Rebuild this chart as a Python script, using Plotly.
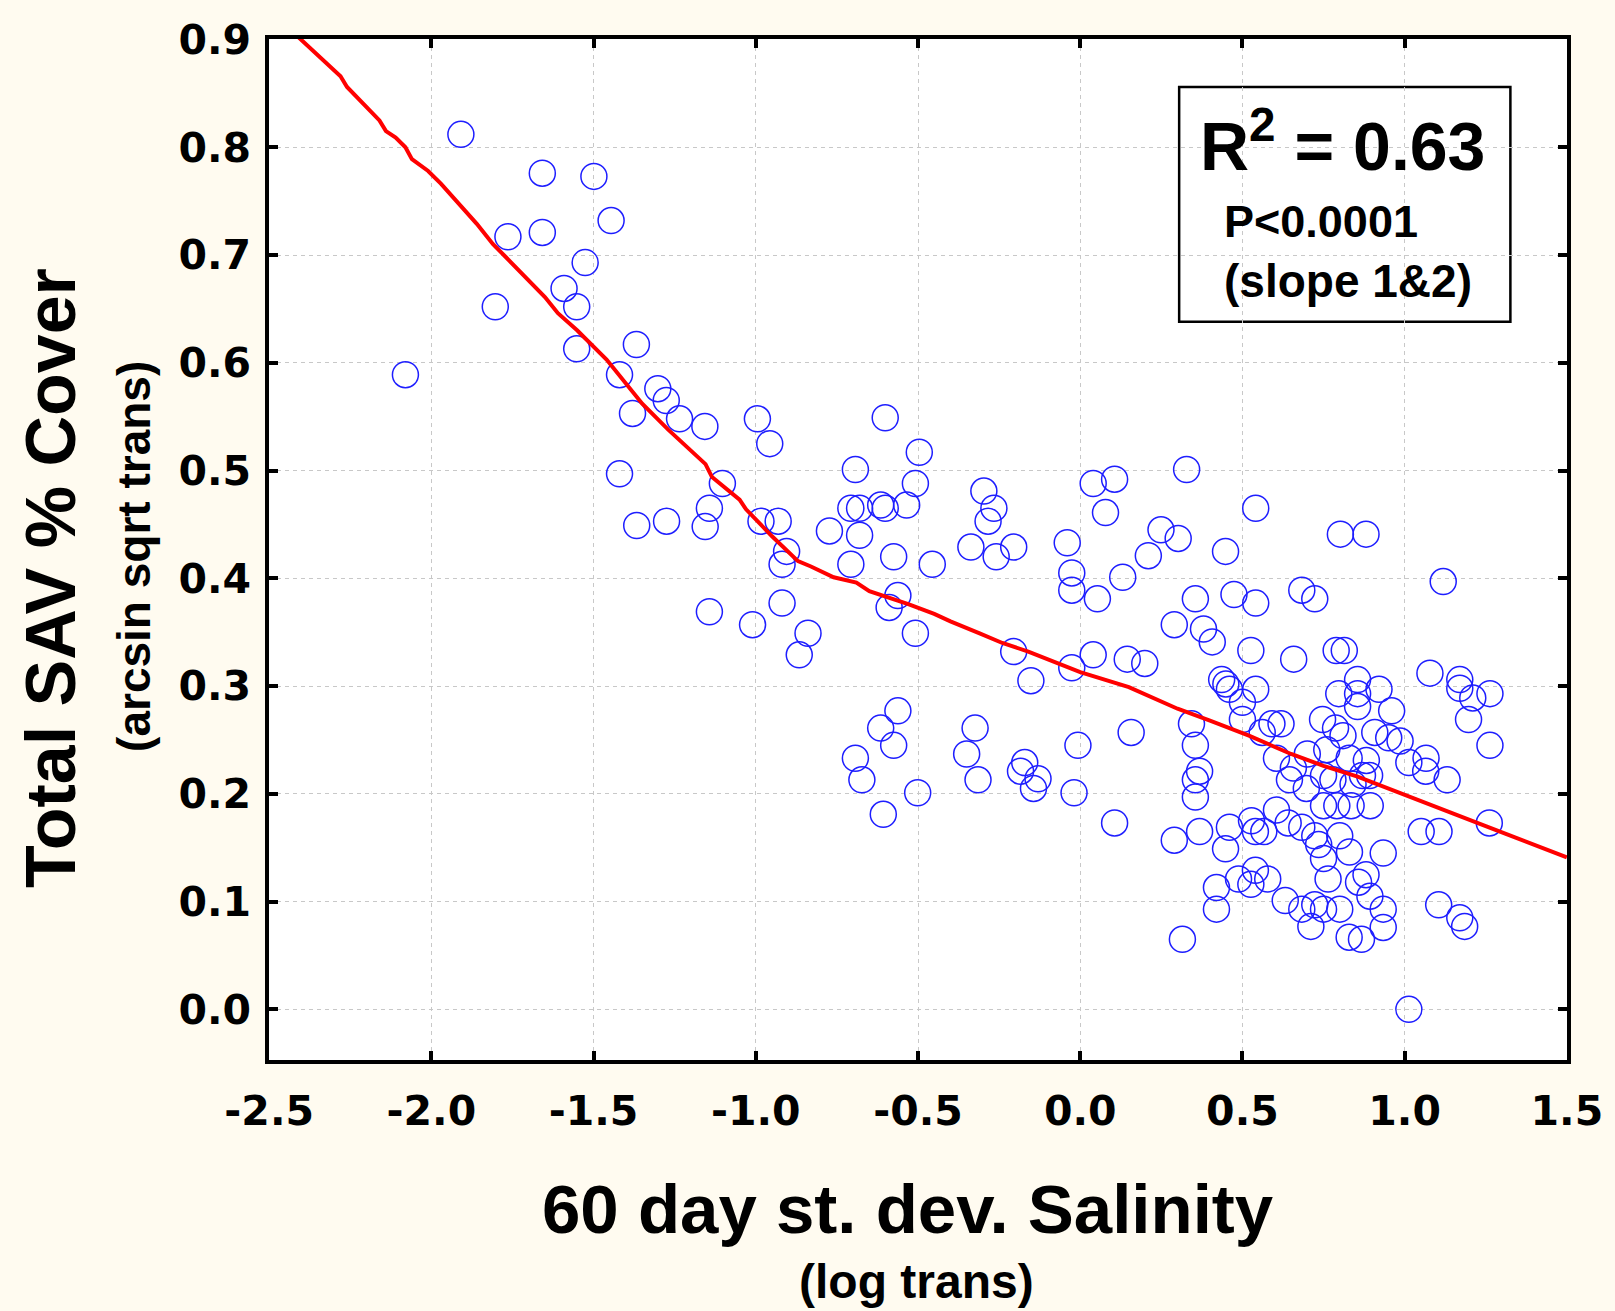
import plotly.graph_objects as go

# ---- data ----
salinity_x = [
    -2.08, -1.909, -1.803, -1.764, -1.658, -1.658, -1.591, -1.552, -1.552, -1.526,
    -1.499, -1.446, -1.42, -1.42, -1.368, -1.38, -1.367, -1.302, -1.276, -1.275,
    -1.235, -1.157, -1.156, -1.143, -1.143, -1.103, -1.01, -0.995, -0.957, -0.984,
    -0.931, -0.905, -0.919, -0.919, -0.839, -0.866, -0.773, -0.693, -0.707, -0.68,
    -0.68, -0.707, -0.601, -0.615, -0.601, -0.535, -0.575, -0.562, -0.589, -0.496,
    -0.508, -0.456, -0.508, -0.562, -0.615, -0.575, -0.693, -0.673, -0.607, -0.501,
    -0.297, -0.266, -0.284, -0.337, -0.259, -0.205, -0.205, -0.152, -0.324, -0.35,
    -0.315, -0.171, -0.184, -0.13, -0.144, -0.04, -0.026, -0.026, -0.026, -0.007,
    -0.019, 0.04, 0.106, 0.078, 0.053, 0.04, 0.131, 0.145, 0.199, 0.157,
    0.106, 0.249, 0.21, 0.302, 0.29, 0.328, 0.343, 0.29, 0.315, 0.355,
    0.38, 0.407, 0.448, 0.474, 0.541, 0.541, 0.526, 0.436, 0.449, 0.46,
    0.541, 0.50, 0.50, 0.355, 0.368, 0.355, 0.355, 0.368, 0.448, 0.46,
    0.42, 0.42, 0.488, 0.526, 0.528, 0.54, 0.54, 0.566, 0.578, 0.561,
    0.591, 0.619, 0.605, 0.657, 0.645, 0.70, 0.697, 0.605, 0.641, 0.683,
    0.632, 0.683, 0.723, 0.711, 0.658, 0.683, 0.723, 0.802, 0.881, 0.789,
    0.814, 0.747, 0.787, 0.81, 0.76, 0.797, 0.855, 0.855, 0.855, 0.921,
    0.96, 0.908, 0.951, 0.986, 0.829, 0.882, 0.892, 0.87, 0.841, 0.779,
    0.75, 0.75, 0.791, 0.835, 0.894, 0.723, 0.735, 0.75, 0.80, 0.83,
    0.934, 0.764, 0.881, 0.858, 0.893, 0.934, 0.934, 0.75, 0.80, 0.829,
    0.867, 1.013, 1.013, 1.066, 1.065, 1.131, 1.078, 1.119, 1.17, 1.17,
    1.21, 1.263, 1.197, 1.263, 1.261, 1.051, 1.106, 1.105, 1.17, 1.185,
]
sav_cover_y = [
    0.589, 0.812, 0.652, 0.717, 0.776, 0.721, 0.669, 0.652, 0.613, 0.693,
    0.773, 0.732, 0.589, 0.497, 0.617, 0.553, 0.449, 0.576, 0.565, 0.453,
    0.548, 0.541, 0.448, 0.465, 0.369, 0.488, 0.357, 0.548, 0.525, 0.453,
    0.453, 0.425, 0.413, 0.377, 0.349, 0.329, 0.444, 0.501, 0.465, 0.465,
    0.44, 0.413, 0.549, 0.468, 0.465, 0.468, 0.42, 0.384, 0.373, 0.517,
    0.488, 0.413, 0.349, 0.277, 0.261, 0.245, 0.233, 0.213, 0.181, 0.201,
    0.481, 0.465, 0.453, 0.429, 0.42, 0.429, 0.332, 0.305, 0.261, 0.237,
    0.213, 0.229, 0.221, 0.214, 0.205, 0.433, 0.405, 0.389, 0.317, 0.245,
    0.201, 0.488, 0.492, 0.461, 0.381, 0.329, 0.401, 0.325, 0.321, 0.257,
    0.173, 0.445, 0.421, 0.437, 0.357, 0.501, 0.265, 0.157, 0.065, 0.381,
    0.353, 0.341, 0.425, 0.385, 0.465, 0.377, 0.333, 0.306, 0.302, 0.297,
    0.297, 0.285, 0.269, 0.245, 0.221, 0.213, 0.197, 0.165, 0.149, 0.169,
    0.113, 0.093, 0.121, 0.116, 0.175, 0.165, 0.129, 0.165, 0.121, 0.257,
    0.265, 0.265, 0.233, 0.224, 0.213, 0.237, 0.205, 0.185, 0.173, 0.169,
    0.101, 0.093, 0.097, 0.077, 0.325, 0.389, 0.381, 0.441, 0.441, 0.333,
    0.333, 0.269, 0.261, 0.254, 0.241, 0.293, 0.306, 0.293, 0.281, 0.297,
    0.277, 0.257, 0.252, 0.249, 0.233, 0.231, 0.217, 0.217, 0.209, 0.213,
    0.217, 0.189, 0.189, 0.189, 0.189, 0.161, 0.153, 0.140, 0.161, 0.146,
    0.145, 0.121, 0.125, 0.118, 0.105, 0.093, 0.076, 0.093, 0.093, 0.067,
    0.065, 0.0, 0.229, 0.233, 0.221, 0.213, 0.312, 0.397, 0.306, 0.298,
    0.289, 0.293, 0.269, 0.245, 0.173, 0.165, 0.165, 0.097, 0.085, 0.077,
]

fit_x = [-2.42, -2.32, -2.28, -2.26, -2.16, -2.14, -2.11, -2.08, -2.06, -2.01,
         -1.97, -1.86, -1.81, -1.77, -1.65, -1.61, -1.55, -1.46, -1.35, -1.27,
         -1.155, -1.135, -1.05, -1.03, -0.99, -0.95, -0.87, -0.83, -0.76, -0.69,
         -0.65, -0.585, -0.53, -0.45, -0.40, -0.31, -0.24, -0.16, -0.075, 0.0,
         0.15, 0.30, 0.40, 0.52, 0.65, 0.75, 0.855, 0.956, 1.11, 1.25, 1.31, 1.5]
fit_y = [0.905, 0.877, 0.866, 0.856, 0.825, 0.815, 0.809, 0.800, 0.789, 0.778,
         0.766, 0.729, 0.71, 0.698, 0.661, 0.646, 0.630, 0.603, 0.562, 0.538,
         0.506, 0.494, 0.473, 0.464, 0.451, 0.439, 0.416, 0.411, 0.401, 0.396,
         0.388, 0.382, 0.376, 0.367, 0.360, 0.349, 0.340, 0.332, 0.322, 0.313,
         0.299, 0.279, 0.268, 0.254, 0.237, 0.226, 0.216, 0.204, 0.186, 0.170,
         0.163, 0.141]

x_tick_vals = [-2.5, -2.0, -1.5, -1.0, -0.5, 0.0, 0.5, 1.0, 1.5]
x_tick_text = ["-2.5", "-2.0", "-1.5", "-1.0", "-0.5", "0.0", "0.5", "1.0", "1.5"]
y_tick_vals = [0.0, 0.1, 0.2, 0.3, 0.4, 0.5, 0.6, 0.7, 0.8, 0.9]
y_tick_text = ["0.0", "0.1", "0.2", "0.3", "0.4", "0.5", "0.6", "0.7", "0.8", "0.9"]

PAPER = "rgb(255,251,240)"

# ---- figure ----
fig = go.Figure()
fig.add_trace(go.Scatter(
    x=salinity_x, y=sav_cover_y, mode="markers",
    marker=dict(symbol="circle-open", size=26, color="rgb(30,30,255)",
                line=dict(width=1.5, color="rgb(30,30,255)")),
    showlegend=False, hoverinfo="x+y"))
fig.add_trace(go.Scatter(
    x=fit_x, y=fit_y, mode="lines",
    line=dict(color="rgb(255,0,0)", width=4),
    showlegend=False))

tick_font = dict(family="DejaVu Sans", size=41, color="black", weight="bold")
axis_common = dict(
    showline=True, linecolor="black", linewidth=3.5, mirror="ticks",
    ticks="inside", ticklen=9, tickwidth=3.5, tickcolor="black",
    showgrid=True, gridcolor="rgb(200,200,200)", gridwidth=1, griddash="4px,4px",
    zeroline=False, tickfont=tick_font,
)
fig.update_xaxes(range=[-2.5005, 1.5005], tickmode="array",
                 tickvals=x_tick_vals, ticktext=x_tick_text,
                 ticklabelstandoff=12, **axis_common)
fig.update_yaxes(range=[-0.047, 0.9005], tickmode="array",
                 tickvals=y_tick_vals, ticktext=y_tick_text,
                 ticklabelstandoff=6, **axis_common)

title_font = "Liberation Sans"
annotations = [
    dict(text="<b>Total SAV % Cover</b>", xref="paper", yref="paper",
         x=-0.1676, y=0.4726, textangle=-90, showarrow=False,
         xanchor="center", yanchor="middle",
         font=dict(family=title_font, size=70, color="black")),
    dict(text="<b>(arcsin sqrt trans)</b>", xref="paper", yref="paper",
         x=-0.1046, y=0.493, textangle=-90, showarrow=False,
         xanchor="center", yanchor="middle",
         font=dict(family=title_font, size=46, color="black")),
    dict(text="<b>60 day st. dev. Salinity</b>", xref="paper", yref="paper",
         x=0.4916, y=-0.1468, showarrow=False,
         xanchor="center", yanchor="middle",
         font=dict(family=title_font, size=69, color="black")),
    dict(text="<b>(log trans)</b>", xref="paper", yref="paper",
         x=0.4988, y=-0.2172, showarrow=False,
         xanchor="center", yanchor="middle",
         font=dict(family=title_font, size=48, color="black")),
    dict(text="<b>R<sup>2</sup> = 0.63</b>", xref="x", yref="y",
         x=0.81, y=0.806, showarrow=False, xanchor="center", yanchor="middle",
         font=dict(family=title_font, size=68, color="black")),
    dict(text="<b>P<0.0001</b>", xref="x", yref="y",
         x=0.438, y=0.731, showarrow=False, xanchor="left", yanchor="middle",
         font=dict(family=title_font, size=45, color="black")),
    dict(text="<b>(slope 1&2)</b>", xref="x", yref="y",
         x=0.436, y=0.676, showarrow=False, xanchor="left", yanchor="middle",
         font=dict(family=title_font, size=46, color="black")),
]

fig.update_layout(
    width=1615, height=1311,
    margin=dict(l=269, r=37, t=39, b=251, pad=0),
    paper_bgcolor=PAPER, plot_bgcolor="white",
    annotations=annotations,
    shapes=[dict(type="rect", xref="x", yref="y", x0=0.305, x1=1.326,
                 y0=0.638, y1=0.856, line=dict(color="black", width=2.5),
                 fillcolor="white", layer="below")],
)

fig.write_html(
    "out.html",
    config={"displayModeBar": False},
    post_script=("document.body.style.margin='0';"
                 "document.body.style.background='" + PAPER + "';"),
)
